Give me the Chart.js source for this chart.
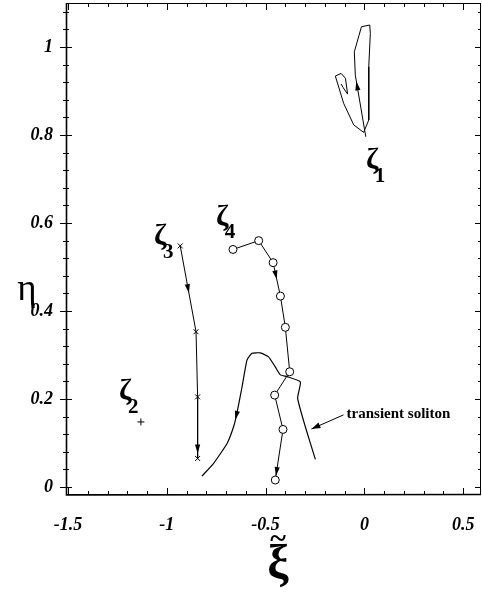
<!DOCTYPE html>
<html>
<head>
<meta charset="utf-8">
<script src="https://cdn.jsdelivr.net/npm/chart.js@4"></script>
<style>
  html, body { margin: 0; padding: 0; background: #fff; }
</style>
</head>
<body>
<canvas id="chart" width="482" height="594"></canvas>
<script>
// tick values
const xTicks = [-1.5, -1, -0.5, 0, 0.5];
const yTicks = [0, 0.2, 0.4, 0.6, 0.8, 1];

// zeta_1 trajectory (loop near the top)
const zeta1X = [0.007, -0.046, -0.051, -0.015, 0.027, 0.030, 0.022, 0.022, -0.004, -0.054, -0.105, -0.147, -0.118, -0.096, -0.085, -0.108, -0.118];
const zeta1Y = [0.796, 0.936, 0.989, 1.046, 1.050, 1.031, 0.955, 0.834, 0.806, 0.823, 0.872, 0.934, 0.940, 0.929, 0.893, 0.908, 0.916];

// zeta_2 (single point)
const zeta2X = [-1.131];
const zeta2Y = [0.148];

// zeta_3 (crosses)
const zeta3X = [-0.932, -0.852, -0.844, -0.844];
const zeta3Y = [0.548, 0.353, 0.205, 0.065];

// zeta_4 (circles)
const zeta4X = [-0.665, -0.535, -0.462, -0.425, -0.400, -0.378, -0.454, -0.412, -0.451];
const zeta4Y = [0.540, 0.560, 0.510, 0.434, 0.363, 0.262, 0.209, 0.131, 0.016];

// transient soliton
const solitonX = [-0.822, -0.763, -0.695, -0.662, -0.645, -0.619, -0.594, -0.569, -0.527, -0.485, -0.451, -0.425, -0.391, -0.324, -0.338, -0.299, -0.248];
const solitonY = [0.025, 0.054, 0.099, 0.137, 0.168, 0.228, 0.289, 0.304, 0.305, 0.296, 0.273, 0.255, 0.251, 0.239, 0.202, 0.137, 0.063];

const pts = (xs, ys) => xs.map((x, i) => ({ x, y: ys[i] }));

const tickFont = { family: 'Liberation Serif', size: 18, weight: 'bold', style: 'italic' };

// arrowheads along the curves: dataset index, segment, fraction, reversed direction
const arrows = [
  { set: 0, seg: 0, t: 0.9, rev: false },
  { set: 2, seg: 0, t: 0.55, rev: false },
  { set: 2, seg: 2, t: 0.92, rev: false },
  { set: 3, seg: 2, t: 0.5, rev: false },
  { set: 3, seg: 7, t: 0.92, rev: false },
  { set: 4, seg: 3, t: 0.5, rev: true }
];

function arrowHead(ctx, x, y, ang, len, half) {
  ctx.save();
  ctx.translate(x, y);
  ctx.rotate(ang);
  ctx.beginPath();
  ctx.moveTo(0, 0);
  ctx.lineTo(-len, -half);
  ctx.lineTo(-len, half);
  ctx.closePath();
  ctx.fill();
  ctx.restore();
}

// kill Chart.js' automatic label padding so the plot frame lands where we want it
function noPad(s) {
  s.paddingTop = 0; s.paddingBottom = 0; s.paddingLeft = 0; s.paddingRight = 0;
}

const decor = {
  id: 'decor',
  afterDraw(chart) {
    const ctx = chart.ctx;
    const { left, right, top, bottom } = chart.chartArea;
    const sx = chart.scales.x, sy = chart.scales.y;
    ctx.save();
    ctx.strokeStyle = '#000';
    ctx.fillStyle = '#000';
    ctx.lineWidth = 1;

    // frame
    ctx.strokeRect(left + 0.5, top + 0.5, right - left - 1, bottom - top - 1);
    ctx.lineWidth = 1.6;
    ctx.beginPath();
    ctx.moveTo(left + 0.5, top); ctx.lineTo(left + 0.5, bottom);
    ctx.lineTo(right, bottom - 0.5);
    ctx.stroke();
    ctx.lineWidth = 1;

    // x ticks every 0.1 (inward, mirrored on top)
    ctx.beginPath();
    for (let i = -15; i <= 5; i++) {
      const px = Math.round(sx.getPixelForValue(i / 10)) + 0.5;
      const len = i % 5 === 0 ? 7 : 4;
      ctx.moveTo(px, bottom); ctx.lineTo(px, bottom - len);
      ctx.moveTo(px, top); ctx.lineTo(px, top + len);
    }
    // y ticks every 0.04 (crossing the left axis, mirrored on right)
    for (let i = 0; i <= 27; i++) {
      const v = i * 0.04;
      const py = Math.round(sy.getPixelForValue(v)) + 0.5;
      const major = i % 5 === 0;
      const len = major ? 6 : 3;
      ctx.moveTo(left - len, py); ctx.lineTo(left + len, py);
      ctx.moveTo(right, py); ctx.lineTo(right - len, py);
    }
    ctx.stroke();

    // arrowheads on curves
    arrows.forEach(a => {
      const d = chart.data.datasets[a.set].data;
      const p0 = d[a.seg], p1 = d[a.seg + 1];
      const x0 = sx.getPixelForValue(p0.x), y0 = sy.getPixelForValue(p0.y);
      const x1 = sx.getPixelForValue(p1.x), y1 = sy.getPixelForValue(p1.y);
      const x = x0 + (x1 - x0) * a.t, y = y0 + (y1 - y0) * a.t;
      let ang = Math.atan2(y1 - y0, x1 - x0);
      if (a.rev) ang += Math.PI;
      arrowHead(ctx, x, y, ang, 9, 2.6);
    });

    // zeta labels
    const zl = [
      { x: 0.039, y: 0.743, s: '1' },
      { x: -1.210, y: 0.217, s: '2' },
      { x: -1.033, y: 0.569, s: '3' },
      { x: -0.720, y: 0.614, s: '4' }
    ];
    ctx.textAlign = 'center';
    ctx.textBaseline = 'middle';
    zl.forEach(l => {
      const px = sx.getPixelForValue(l.x), py = sy.getPixelForValue(l.y);
      ctx.font = 'bold 30px "Liberation Serif"';
      ctx.fillText('ζ', px, py);
      ctx.font = 'bold 21px "Liberation Serif"';
      ctx.fillText(l.s, px + 8, py + 16);
    });

    // transient soliton annotation
    const ax0 = sx.getPixelForValue(-0.106), ay0 = sy.getPixelForValue(0.164);
    const ax1 = sx.getPixelForValue(-0.268), ay1 = sy.getPixelForValue(0.132);
    ctx.beginPath();
    ctx.moveTo(ax0, ay0); ctx.lineTo(ax1, ay1);
    ctx.stroke();
    arrowHead(ctx, ax1, ay1, Math.atan2(ay1 - ay0, ax1 - ax0), 9, 3);
    ctx.font = 'bold 15px "Liberation Serif"';
    ctx.textAlign = 'left';
    ctx.fillText('transient soliton', sx.getPixelForValue(-0.09), sy.getPixelForValue(0.166));

    // axis titles
    ctx.textAlign = 'center';
    ctx.font = '37px "Liberation Serif"';
    ctx.fillText('η', 27, 290);
    ctx.font = 'bold 48px "Liberation Serif"';
    ctx.fillText('ξ', 278, 566);
    ctx.font = 'bold 30px "Liberation Serif"';
    ctx.fillText('~', 278, 540);
    ctx.restore();
  }
};

new Chart(document.getElementById('chart'), {
  type: 'scatter',
  data: {
    datasets: [
      { label: 'zeta1', data: pts(zeta1X, zeta1Y), showLine: true, borderColor: '#000', borderWidth: 1, pointRadius: 0, tension: 0 },
      { label: 'zeta2', data: pts(zeta2X, zeta2Y), showLine: false, borderColor: '#000', borderWidth: 1, pointStyle: 'cross', pointRadius: 3.5 },
      { label: 'zeta3', data: pts(zeta3X, zeta3Y), showLine: true, borderColor: '#000', borderWidth: 1, pointStyle: 'crossRot', pointRadius: 3.5 },
      { label: 'zeta4', data: pts(zeta4X, zeta4Y), showLine: true, borderColor: '#000', backgroundColor: '#fff', borderWidth: 1, pointStyle: 'circle', pointRadius: 4 },
      { label: 'soliton', data: pts(solitonX, solitonY), showLine: true, borderColor: '#000', borderWidth: 1.2, pointRadius: 0, tension: 0.15 }
    ]
  },
  options: {
    responsive: false,
    animation: false,
    devicePixelRatio: 1,
    layout: { autoPadding: false, padding: { top: 3, right: 1, left: 0, bottom: 0 } },
    plugins: { legend: { display: false }, tooltip: { enabled: false } },
    scales: {
      x: {
        type: 'linear', min: -1.51, max: 0.59,
        afterBuildTicks: s => { s.ticks = xTicks.map(v => ({ value: v })); },
        afterFit: s => { s.height = 99; noPad(s); },
        grid: { display: false, drawTicks: false },
        border: { display: false },
        ticks: { color: '#000', font: tickFont, padding: 20, maxRotation: 0, autoSkip: false, callback: v => String(v) }
      },
      y: {
        type: 'linear', min: -0.018, max: 1.1,
        afterBuildTicks: s => { s.ticks = yTicks.map(v => ({ value: v })); },
        afterFit: s => { s.width = 66; noPad(s); },
        grid: { display: false, drawTicks: false },
        border: { display: false },
        ticks: { color: '#000', font: tickFont, padding: 13, autoSkip: false, callback: v => String(v) }
      }
    }
  },
  plugins: [decor]
});
</script>
</body>
</html>
